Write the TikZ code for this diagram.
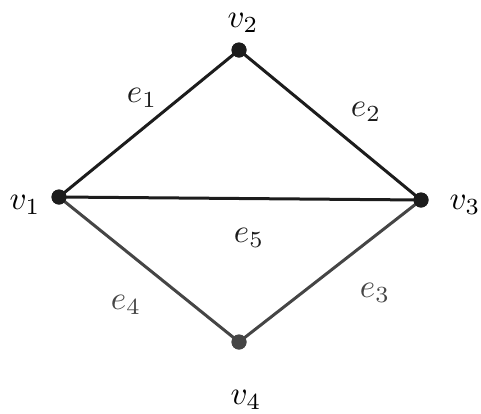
\documentclass[tikz,border=0pt]{standalone}
\usepackage{graphicx}
\usepackage{tikz}
\usetikzlibrary{positioning}
\definecolor{edgeDark}{HTML}{1C1C1C}
\definecolor{edgeGrey}{HTML}{454545}
\newcommand{\biglabel}[1]{\scalebox{3.3}{$#1$}}
\tikzset{
    vertex/.style={
        circle,
        fill=#1,
        inner sep=0pt,
        minimum size=15pt,
    },
    vertex/.default=edgeDark,
    graph edge/.style={
        line width=3pt,
        draw=#1,
    },
    graph edge/.default=edgeDark,
    vlabel/.style={
        inner sep=0pt,
    },
    elabel/.style={
        inner sep=0pt,
        text=#1,
    },
    elabel/.default=edgeDark,
}

\begin{document}
\begin{tikzpicture}[x=1pt, y=-1pt]

\useasboundingbox (0,0) rectangle (481,413);

% ── VERTICES ───────────────────────────────────────────────────────

\node[vertex] (v1) at (59, 197) {};
\node[vertex] (v2) at (239, 50) {};
\node[vertex] (v3) at (421, 200) {};
\node[vertex=edgeGrey] (v4) at (239, 342) {};

% ── EDGES ──────────────────────────────────────────────────────────

\draw[graph edge] (v1.center) -- (v2.center);
\draw[graph edge] (v2.center) -- (v3.center);
\draw[graph edge] (v1.center) -- (v3.center);
\draw[graph edge=edgeGrey] (v1.center) -- (v4.center);
\draw[graph edge=edgeGrey] (v4.center) -- (v3.center);

% redraw dots above the edge ends
\node[vertex] at (v1) {};
\node[vertex] at (v2) {};
\node[vertex] at (v3) {};
\node[vertex=edgeGrey] at (v4) {};

% ── VERTEX LABELS ──────────────────────────────────────────────────

\node[vlabel] (v1-label) at (25, 205) {\biglabel{v_1}};
\node[vlabel] (v2-label) at (243, 23) {\biglabel{v_2}};
\node[vlabel] (v3-label) at (465, 205) {\biglabel{v_3}};
\node[vlabel] (v4-label) at (246, 400) {\biglabel{v_4}};

% ── EDGE LABELS ────────────────────────────────────────────────────

\node[elabel] (e1-label) at (142, 98) {\biglabel{e_1}};
\node[elabel] (e2-label) at (366, 112) {\biglabel{e_2}};
\node[elabel=edgeGrey] (e3-label) at (375, 293) {\biglabel{e_3}};
\node[elabel=edgeGrey] (e4-label) at (126, 305) {\biglabel{e_4}};
\node[elabel] (e5-label) at (249, 238) {\biglabel{e_5}};

\end{tikzpicture}
\end{document}
